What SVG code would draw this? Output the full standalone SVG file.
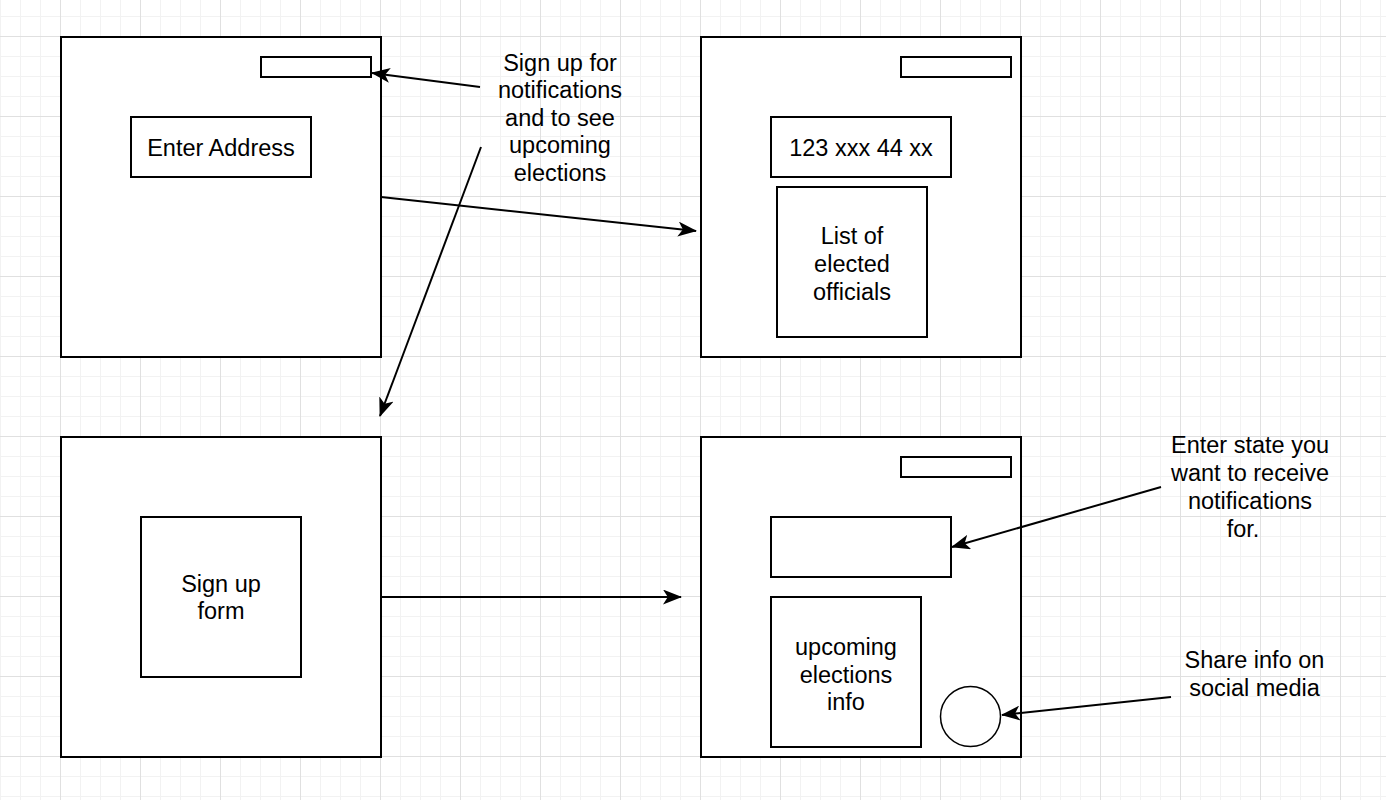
<svg xmlns="http://www.w3.org/2000/svg" width="1386" height="800" viewBox="0 0 1386 800">
<defs>
<pattern id="gMinor" x="0" y="16" width="20" height="20" patternUnits="userSpaceOnUse">
<path d="M0.5 0V20M0 0.5H20" stroke="#f2f2f2" stroke-width="1" fill="none"/>
</pattern>
<pattern id="gMajor" x="60" y="36" width="80" height="80" patternUnits="userSpaceOnUse">
<path d="M0.5 0V80M0 0.5H80" stroke="#e0e0e0" stroke-width="1" fill="none"/>
</pattern>
<marker id="arr" viewBox="0 0 19 15" markerWidth="19" markerHeight="15" refX="18" refY="7.5" orient="auto" markerUnits="userSpaceOnUse">
<path d="M19,7.5 L0,0 L4.8,7.5 L0,15 Z" fill="#000"/>
</marker>
</defs>
<style>
.box{fill:#fff;stroke:#000;stroke-width:2}
.circ{fill:#fff;stroke:#000;stroke-width:1.5}
.edge{fill:none;stroke:#000;stroke-width:2;marker-end:url(#arr)}
text{font-family:"Liberation Sans",Arial,Helvetica,sans-serif;font-size:23.5px;fill:#000;text-anchor:middle}
</style>
<rect width="1386" height="800" fill="#fff"/>
<rect width="1386" height="800" fill="url(#gMinor)"/>
<rect width="1386" height="800" fill="url(#gMajor)"/>

<g id="screen1">
<rect class="box" x="61" y="37" width="320" height="320"/>
<rect class="box" x="261" y="57" width="110" height="20"/>
</g>
<g id="enterAddress">
<rect class="box" x="131" y="117" width="180" height="60"/>
<text x="221" y="156">Enter Address</text>
</g>

<g id="screen2">
<rect class="box" x="701" y="37" width="320" height="320"/>
<rect class="box" x="901" y="57" width="110" height="20"/>
</g>
<g id="addressShown">
<rect class="box" x="771" y="117" width="180" height="60"/>
<text x="861" y="156">123 xxx 44 xx</text>
</g>
<g id="officials">
<rect class="box" x="777" y="187" width="150" height="150"/>
<text x="852" y="244">List of</text>
<text x="852" y="272">elected</text>
<text x="852" y="300">officials</text>
</g>

<g id="screen3">
<rect class="box" x="61" y="437" width="320" height="320"/>
</g>
<g id="signupForm">
<rect class="box" x="141" y="517" width="160" height="160"/>
<text x="221" y="592">Sign up</text>
<text x="221" y="619">form</text>
</g>

<g id="screen4">
<rect class="box" x="701" y="437" width="320" height="320"/>
<rect class="box" x="901" y="457" width="110" height="20"/>
</g>
<g id="stateInput">
<rect class="box" x="771" y="517" width="180" height="60"/>
</g>
<g id="electionsInfo">
<rect class="box" x="771" y="597" width="150" height="150"/>
<text x="846" y="655">upcoming</text>
<text x="846" y="682.5">elections</text>
<text x="846" y="710">info</text>
</g>
<g id="shareCircle">
<circle class="circ" cx="970.5" cy="716.5" r="30"/>
</g>

<g id="noteSignup">
<text x="560" y="70.5">Sign up for</text>
<text x="560" y="98">notifications</text>
<text x="560" y="125.5">and to see</text>
<text x="560" y="153">upcoming</text>
<text x="560" y="180.5">elections</text>
</g>
<g id="noteState">
<text x="1250" y="453">Enter state you</text>
<text x="1250" y="481">want to receive</text>
<text x="1250" y="509">notifications</text>
<text x="1243" y="537">for.</text>
</g>
<g id="noteShare">
<text x="1254.5" y="668">Share info on</text>
<text x="1254.5" y="696">social media</text>
</g>

<g id="connectors">
<path class="edge" d="M480,87 L372,73"/>
<path class="edge" d="M481,147 L380,416"/>
<path class="edge" d="M381,197 L696,231"/>
<path class="edge" d="M381,597 L681,597"/>
<path class="edge" d="M1161,487 L952,547"/>
<path class="edge" d="M1171,697 L1002,715"/>
</g>
</svg>
